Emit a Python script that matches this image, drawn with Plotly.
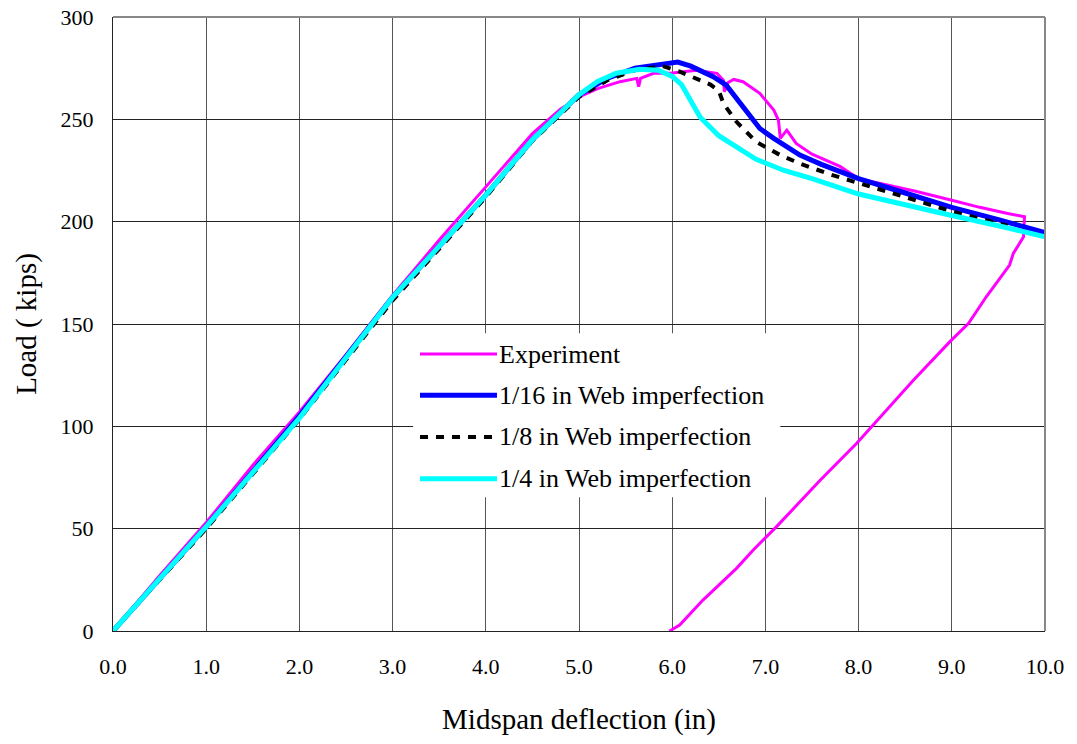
import plotly.graph_objects as go

# ---- data ----
exp_x = [0, 0.2, 0.5, 1.0, 1.5, 2.0, 2.5, 3.0, 3.5, 4.0, 4.5, 4.8, 5.05, 5.2, 5.44, 5.62, 5.64, 5.66,
         5.80, 5.98, 6.26, 6.48, 6.55, 6.56, 6.60, 6.66, 6.76, 6.94, 7.09, 7.14, 7.16, 7.23, 7.33,
         7.5, 7.8, 8.0, 8.3, 8.6, 9.0, 9.3, 9.6, 9.78, 9.77, 9.66, 9.62, 9.37, 9.18, 8.98, 8.59,
         8.16, 7.98, 7.59, 7.30, 7.12, 6.87, 6.69, 6.33, 6.08, 5.99, 5.97]
exp_y = [0, 11, 27, 53, 81, 107, 135, 164, 191, 217, 243, 255, 262, 265, 268.4, 270, 266, 270,
         272.5, 272.5, 274, 272.5, 269, 263.5, 268, 269.5, 268.4, 262.7, 254.5, 249.6, 240.7, 244.7, 238.2,
         233, 227, 221, 218, 215, 210.5, 207, 204, 202.4, 192.6, 184.5, 178.8, 163.3, 150.3, 141.4, 122.6,
         100.6, 91.7, 73.8, 59.9, 51, 39.6, 30.6, 15.1, 2.9, 0.5, 0]

w16_x = [0, 1, 2, 3, 4, 4.5, 5, 5.3, 5.6, 5.9, 6.06, 6.2, 6.44, 6.58, 6.76, 6.94, 7.09, 7.37, 7.6,
         8.0, 8.5, 9.0, 9.5, 10.0]
w16_y = [0, 51, 105, 163, 213, 240, 262, 270, 275, 277, 278, 276, 270.8, 266.7, 256, 245.5, 240.7,
         232.5, 228, 221, 214, 207, 201, 194.6]

w8_x = [0, 1, 2, 3, 4, 4.5, 5, 5.3, 5.6, 5.9, 6.08, 6.41, 6.50, 6.55, 6.69, 6.90, 7.16, 7.37, 7.7, 8.0,
        8.5, 9.0, 9.6]
w8_y = [0, 50, 103.5, 161.5, 212, 239.5, 261, 269, 274, 276, 273.3, 267, 264, 257.7, 248.8, 239, 232.5, 228.4,
        223, 219, 212, 205, 198]

w4_x = [0, 1, 2, 3, 4, 4.5, 5, 5.2, 5.4, 5.65, 5.85, 6.0, 6.1, 6.3, 6.5, 6.7, 6.9, 7.2, 7.5, 8.0,
        8.5, 9.0, 9.5, 10.0]
w4_y = [0, 51, 104, 163, 213, 240, 262, 268.5, 272.5, 274.5, 274, 271, 267, 251, 242, 236, 230.5,
        225, 221, 213.5, 208, 203, 198, 192.6]

names = ["Experiment", "1/16 in Web imperfection", "1/8 in Web imperfection", "1/4 in Web imperfection"]
colors = ["#FF00FF", "#0000FF", "#000000", "#00FFFF"]

x_ticks = [0, 1, 2, 3, 4, 5, 6, 7, 8, 9, 10]
x_tick_labels = ["0.0", "1.0", "2.0", "3.0", "4.0", "5.0", "6.0", "7.0", "8.0", "9.0", "10.0"]
y_ticks = [0, 50, 100, 150, 200, 250, 300]

FONT = "Liberation Serif, Times New Roman, serif"

fig = go.Figure()
fig.add_trace(go.Scatter(x=exp_x, y=exp_y, mode="lines", name=names[0],
                         line=dict(color=colors[0], width=3), showlegend=False))
fig.add_trace(go.Scatter(x=w16_x, y=w16_y, mode="lines", name=names[1],
                         line=dict(color=colors[1], width=5), showlegend=False))
fig.add_trace(go.Scatter(x=w8_x, y=w8_y, mode="lines", name=names[2],
                         line=dict(color=colors[2], width=4, dash="8px,8px"), showlegend=False))
fig.add_trace(go.Scatter(x=w4_x, y=w4_y, mode="lines", name=names[3],
                         line=dict(color=colors[3], width=5), showlegend=False))

# ---- manual legend (white box with long sample lines) ----
lx0, lx1, ly0, ly1 = 0.322, 0.716, 0.218, 0.485
fig.add_shape(type="rect", xref="paper", yref="paper", x0=lx0, x1=lx1, y0=ly0, y1=ly1,
              fillcolor="white", line=dict(width=0), layer="above")
widths = [3, 5, 4, 5]
dashes = ["solid", "solid", "8px,8px", "solid"]
row_y = [0.451, 0.384, 0.316, 0.248]
for i in range(4):
    fig.add_shape(type="line", xref="paper", yref="paper", x0=0.3294, x1=0.412,
                  y0=row_y[i], y1=row_y[i], layer="above",
                  line=dict(color=colors[i], width=widths[i], dash=dashes[i]))
    fig.add_annotation(xref="paper", yref="paper", x=0.412, y=row_y[i], text=names[i],
                       showarrow=False, xanchor="left", yanchor="middle",
                       font=dict(family=FONT, size=26, color="black"))

fig.update_layout(
    width=1077, height=744,
    margin=dict(l=113, r=32, t=17, b=113, autoexpand=False),
    paper_bgcolor="white", plot_bgcolor="white",
    font=dict(family=FONT, size=22, color="black"),
    xaxis=dict(range=[0, 10], tickvals=x_ticks, ticktext=x_tick_labels, automargin=False,
               showgrid=True, gridcolor="#555555", gridwidth=1, zeroline=False,
               showline=True, linecolor="#222222", linewidth=1, mirror=False,
               ticks="", ticklabelstandoff=16, ticklabeloverflow="allow",
               tickfont=dict(family=FONT, size=22),
               title=dict(text="Midspan deflection (in)", font=dict(family=FONT, size=29), standoff=30)),
    yaxis=dict(range=[0, 300], tickvals=y_ticks, automargin=False,
               showgrid=True, gridcolor="#222222", gridwidth=1, zeroline=False,
               showline=True, linecolor="#222222", linewidth=1,
               ticks="", ticklabelstandoff=14, ticklabeloverflow="allow",
               tickfont=dict(family=FONT, size=22),
               title=dict(text="Load ( kips)", font=dict(family=FONT, size=29), standoff=15)),
)
# top and right frame in gray
fig.add_shape(type="line", xref="paper", yref="paper", x0=0, x1=1, y0=1, y1=1,
              line=dict(color="#888888", width=2))
fig.add_shape(type="line", xref="paper", yref="paper", x0=1, x1=1, y0=0, y1=1,
              line=dict(color="#888888", width=2))

fig.write_html("out.html", config={"displayModeBar": False},
               post_script="document.body.style.margin='0';document.body.style.overflow='hidden';")
